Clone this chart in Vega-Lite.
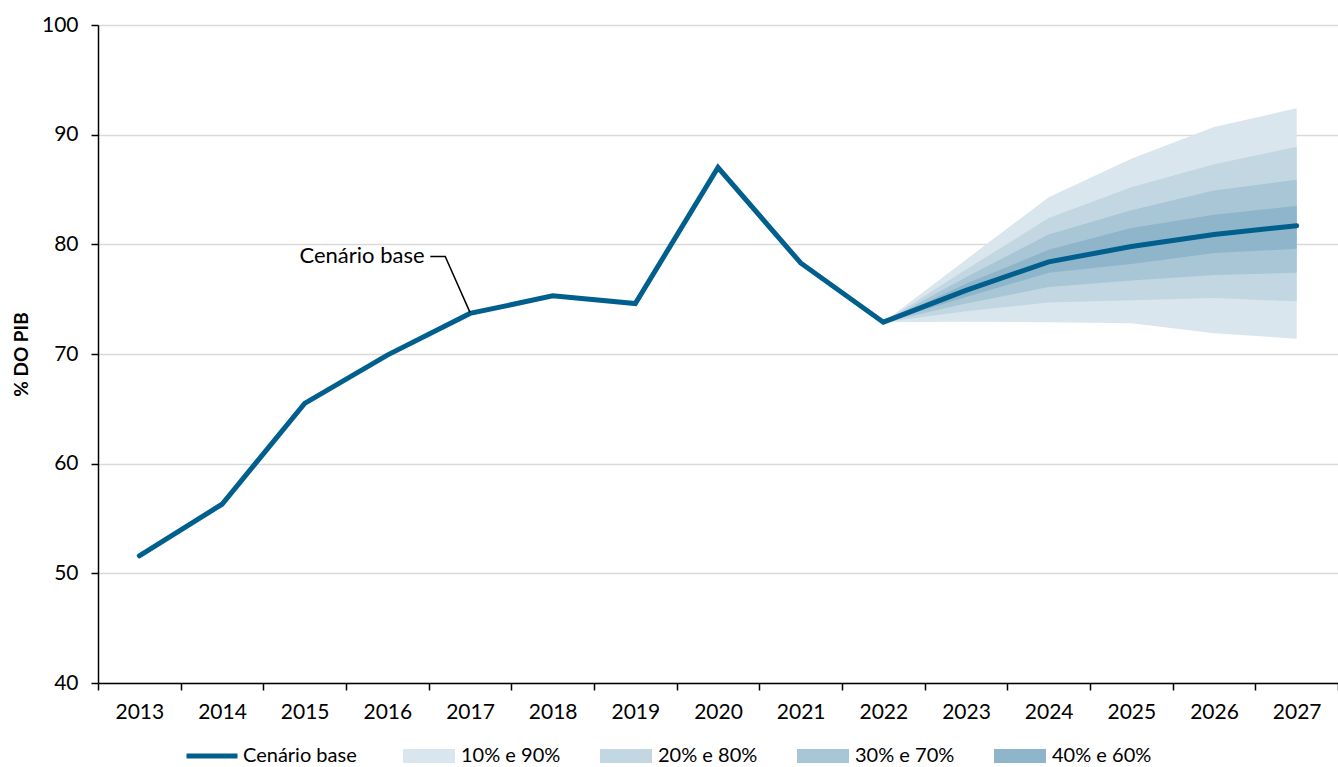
{
  "$schema": "https://vega.github.io/schema/vega-lite/v6.json",
  "autosize": "none",
  "width": 1240,
  "height": 658,
  "padding": {"left": 98, "top": 25, "right": 0, "bottom": 84},
  "background": "white",
  "config": {
    "view": {"stroke": null},
    "font": "Lato",
    "axis": {"labelFont": "Lato", "labelFontSize": 21, "labelColor": "#000000", "titleFont": "Lato"},
    "legend": {"labelFont": "Lato", "labelFontSize": 20, "labelColor": "#000000"}
  },
  "datasets": {
    "base": [
      {"year": "2013", "series": "Cenário base", "value": 51.6},
      {"year": "2014", "series": "Cenário base", "value": 56.3},
      {"year": "2015", "series": "Cenário base", "value": 65.5},
      {"year": "2016", "series": "Cenário base", "value": 69.9},
      {"year": "2017", "series": "Cenário base", "value": 73.7},
      {"year": "2018", "series": "Cenário base", "value": 75.3},
      {"year": "2019", "series": "Cenário base", "value": 74.6},
      {"year": "2020", "series": "Cenário base", "value": 87.0},
      {"year": "2021", "series": "Cenário base", "value": 78.3},
      {"year": "2022", "series": "Cenário base", "value": 72.9},
      {"year": "2023", "series": "Cenário base", "value": 75.8},
      {"year": "2024", "series": "Cenário base", "value": 78.4},
      {"year": "2025", "series": "Cenário base", "value": 79.8},
      {"year": "2026", "series": "Cenário base", "value": 80.9},
      {"year": "2027", "series": "Cenário base", "value": 81.7}
    ],
    "fan": [
      {"year": "2022", "band": "10% e 90%", "lo": 72.9, "hi": 72.9},
      {"year": "2023", "band": "10% e 90%", "lo": 72.95, "hi": 78.6},
      {"year": "2024", "band": "10% e 90%", "lo": 72.9, "hi": 84.3},
      {"year": "2025", "band": "10% e 90%", "lo": 72.8, "hi": 87.8},
      {"year": "2026", "band": "10% e 90%", "lo": 71.9, "hi": 90.7},
      {"year": "2027", "band": "10% e 90%", "lo": 71.4, "hi": 92.4},
      {"year": "2022", "band": "20% e 80%", "lo": 72.9, "hi": 72.9},
      {"year": "2023", "band": "20% e 80%", "lo": 73.9, "hi": 77.7},
      {"year": "2024", "band": "20% e 80%", "lo": 74.7, "hi": 82.4},
      {"year": "2025", "band": "20% e 80%", "lo": 74.9, "hi": 85.2},
      {"year": "2026", "band": "20% e 80%", "lo": 75.1, "hi": 87.3},
      {"year": "2027", "band": "20% e 80%", "lo": 74.8, "hi": 88.9},
      {"year": "2022", "band": "30% e 70%", "lo": 72.9, "hi": 72.9},
      {"year": "2023", "band": "30% e 70%", "lo": 74.6, "hi": 77.0},
      {"year": "2024", "band": "30% e 70%", "lo": 76.1, "hi": 80.9},
      {"year": "2025", "band": "30% e 70%", "lo": 76.7, "hi": 83.1},
      {"year": "2026", "band": "30% e 70%", "lo": 77.2, "hi": 84.9},
      {"year": "2027", "band": "30% e 70%", "lo": 77.4, "hi": 85.9},
      {"year": "2022", "band": "40% e 60%", "lo": 72.9, "hi": 72.9},
      {"year": "2023", "band": "40% e 60%", "lo": 75.2, "hi": 76.4},
      {"year": "2024", "band": "40% e 60%", "lo": 77.4, "hi": 79.5},
      {"year": "2025", "band": "40% e 60%", "lo": 78.2, "hi": 81.5},
      {"year": "2026", "band": "40% e 60%", "lo": 79.2, "hi": 82.7},
      {"year": "2027", "band": "40% e 60%", "lo": 79.6, "hi": 83.5}
    ],
    "leader": [
      {"x": 2016.52, "value": 78.9, "o": 0},
      {"x": 2016.70, "value": 78.9, "o": 1},
      {"x": 2017.0, "value": 73.8, "o": 2}
    ],
    "note": [
      {"x": 2016.45, "value": 78.9, "label": "Cenário base"}
    ]
  },
  "layer": [
    {
      "layer": [
        {
          "data": {"name": "fan"},
          "mark": {"type": "area", "opacity": 1},
          "encoding": {
            "x": {"field": "year", "type": "ordinal",
              "scale": {"type": "band", "paddingInner": 0, "paddingOuter": 0,
                "domain": ["2013","2014","2015","2016","2017","2018","2019","2020","2021","2022","2023","2024","2025","2026","2027"]},
              "axis": {"title": null, "labelAngle": 0, "tickBand": "extent", "tickSize": 7, "tickColor": "#000000", "tickWidth": 1.5,
                "domainColor": "#000000", "domainWidth": 1.5, "labelPadding": 11, "grid": false}},
            "y": {"field": "lo", "type": "quantitative", "stack": null, "title": "% DO PIB",
              "scale": {"domain": [40, 100], "nice": false, "zero": false},
              "axis": {"values": [40, 50, 60, 70, 80, 90, 100], "grid": true, "gridColor": "#d9d9d9", "gridWidth": 1.5,
                "domainColor": "#000000", "domainWidth": 1.5, "tickColor": "#000000", "tickWidth": 1.5, "tickSize": 7,
                "labelPadding": 13, "titleFontSize": 19, "titleFontWeight": "bold", "titleColor": "#000000", "titlePadding": 10}},
            "y2": {"field": "hi"},
            "fill": {"field": "band", "type": "nominal",
              "scale": {"domain": ["10% e 90%", "20% e 80%", "30% e 70%", "40% e 60%"],
                "range": ["#dae6ee", "#c2d7e2", "#a8c6d6", "#8fb5ca"]},
              "legend": {"title": null, "orient": "none", "direction": "horizontal", "columns": 4, "legendX": 305, "legendY": 705,
                "symbolSize": 2704, "symbolStrokeWidth": 0, "symbolType": "M-1,-0.27H1V0.27H-1Z", "symbolOpacity": 1,
                "labelOffset": 6, "columnPadding": 39}}
          }
        },
        {
          "data": {"name": "base"},
          "mark": {"type": "line", "strokeWidth": 5, "strokeJoin": "miter", "strokeCap": "round"},
          "encoding": {
            "x": {"field": "year", "type": "ordinal"},
            "y": {"field": "value", "type": "quantitative", "title": "% DO PIB"},
            "stroke": {"field": "series", "type": "nominal",
              "scale": {"domain": ["Cenário base"], "range": ["#005f8c"]},
              "legend": {"title": null, "orient": "none", "direction": "horizontal", "legendX": 86, "legendY": 703,
                "symbolType": "stroke", "symbolSize": 2601, "symbolStrokeWidth": 5, "labelOffset": 3,
                "symbolStrokeColor": "#005f8c"}}
          }
        }
      ]
    },
    {
      "layer": [
        {
          "data": {"name": "leader"},
          "mark": {"type": "line", "color": "#000000", "strokeWidth": 1.5},
          "encoding": {
            "x": {"field": "x", "type": "quantitative", "scale": {"domain": [2012.5, 2027.5], "nice": false, "zero": false}, "axis": null},
            "y": {"field": "value", "type": "quantitative", "title": "% DO PIB"},
            "order": {"field": "o"}
          }
        },
        {
          "data": {"name": "note"},
          "mark": {"type": "text", "align": "right", "baseline": "middle", "fontSize": 22, "font": "Lato", "color": "#000000"},
          "encoding": {
            "x": {"field": "x", "type": "quantitative", "axis": null},
            "y": {"field": "value", "type": "quantitative", "title": "% DO PIB"},
            "text": {"field": "label"}
          }
        }
      ]
    }
  ],
  "resolve": {"scale": {"x": "independent"}}
}
